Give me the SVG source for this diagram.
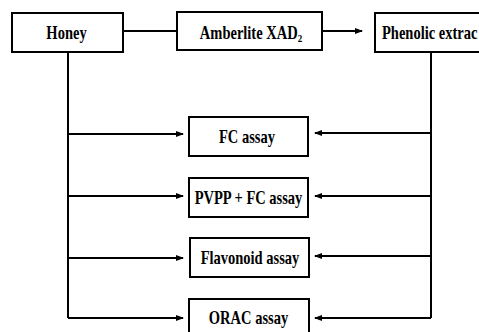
<svg xmlns="http://www.w3.org/2000/svg" width="479" height="332" viewBox="0 0 479 332">
<style>
.box{fill:#fff;stroke:#000;stroke-width:2}
.ln{fill:none;stroke:#000;stroke-width:2}
.t{font-family:"Liberation Serif","Times New Roman",serif;font-weight:bold;font-size:14.5px;fill:#000;text-anchor:middle}
</style>
<defs>
<marker id="ah" markerWidth="8" markerHeight="6" refX="7" refY="3" orient="auto" markerUnits="userSpaceOnUse">
<path d="M0,0 L8,3 L0,6 z" fill="#000"/>
</marker>
</defs>
<rect width="479" height="332" fill="#fff"/>
<g id="connectors">
<line class="ln" x1="123" y1="31" x2="177" y2="31"/>
<line class="ln" x1="322" y1="31" x2="362" y2="31" marker-end="url(#ah)"/>
<line class="ln" x1="68" y1="52" x2="68" y2="318"/>
<line class="ln" x1="431" y1="52" x2="431" y2="318"/>
<line class="ln" x1="68" y1="134" x2="183" y2="134" marker-end="url(#ah)"/>
<line class="ln" x1="68" y1="196" x2="183" y2="196" marker-end="url(#ah)"/>
<line class="ln" x1="68" y1="258" x2="183" y2="258" marker-end="url(#ah)"/>
<line class="ln" x1="68" y1="318" x2="183" y2="318" marker-end="url(#ah)"/>
<line class="ln" x1="431" y1="133" x2="315" y2="133" marker-end="url(#ah)"/>
<line class="ln" x1="431" y1="196" x2="315" y2="196" marker-end="url(#ah)"/>
<line class="ln" x1="431" y1="256" x2="315" y2="256" marker-end="url(#ah)"/>
<line class="ln" x1="431" y1="318" x2="315" y2="318" marker-end="url(#ah)"/>
</g>
<g id="honey">
<rect class="box" x="12" y="13" width="111" height="39"/>
<text class="t" transform="translate(66.5,39) scale(1,1.25)">Honey</text>
</g>
<g id="amberlite">
<rect class="box" x="177" y="12" width="145" height="38"/>
<text class="t" transform="translate(251,39) scale(1,1.25)">Amberlite XAD<tspan font-size="9" dy="2">2</tspan></text>
</g>
<g id="phenolic">
<rect class="box" x="375" y="13" width="110" height="39"/>
<text class="t" style="text-anchor:start" transform="translate(382,39) scale(1,1.25)">Phenolic extrac</text>
</g>
<g id="fc">
<rect class="box" x="189" y="117" width="119" height="39"/>
<text class="t" transform="translate(247,143) scale(1,1.25)">FC assay</text>
</g>
<g id="pvpp">
<rect class="box" x="189" y="178" width="119" height="39"/>
<text class="t" transform="translate(248.5,204) scale(1,1.25)">PVPP + FC assay</text>
</g>
<g id="flavonoid">
<rect class="box" x="190" y="238" width="119" height="39"/>
<text class="t" transform="translate(250,264) scale(1,1.25)">Flavonoid assay</text>
</g>
<g id="orac">
<rect class="box" x="189" y="299" width="120" height="40"/>
<text class="t" transform="translate(248.5,324) scale(1,1.25)">ORAC assay</text>
</g>
</svg>
